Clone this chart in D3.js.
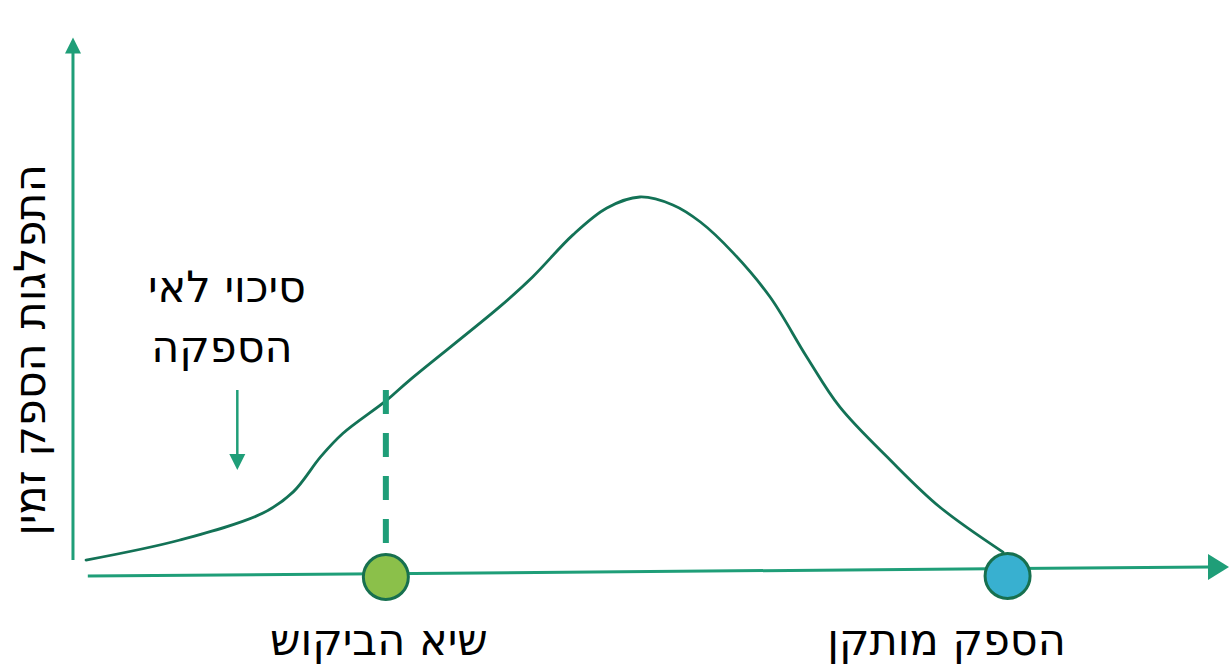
<!DOCTYPE html>
<html><head><meta charset="utf-8">
<script src="https://cdn.jsdelivr.net/npm/d3@7"></script>
<style>html,body{margin:0;padding:0;background:#fff;}svg{display:block;}</style>
</head><body>
<svg id="c" width="1229" height="665"></svg>
<script>
// ---- data ----
const curveX = [0, 10.25, 19.3, 22.6, 25.6, 28.0, 32.8, 35.3, 45.1, 48.7, 53.1, 56.8, 60.4, 64.0, 67.0, 70.6, 74.6, 78.6, 82.2, 87.7, 93.1, 100];
const curveY = [4.2, 9.5, 16.6, 22.2, 31.5, 37.6, 46.4, 51.7, 71.0, 78.9, 90.0, 97.1, 100, 97.9, 93.4, 85.2, 73.6, 57.8, 44.6, 30.6, 18.2, 6.3];
const markerNames = ["שיא הביקוש", "הספק מותקן"];
const markerX = [32.7, 100.5];
const markerColors = ["#8bc04a", "#38b0d0"];
const yAxisTitle = "התפלגות הספק זמין";
const noteLines = ["סיכוי לאי", "הספקה"];

// ---- scales ----
const xScale = d3.scaleLinear().domain([0, 100]).range([86, 1003]);
const yScale = d3.scaleLinear().domain([0, 100]).range([576, 197]);

const svg = d3.select("#c");
const axisColor = "#1f9e78";
const curveColor = "#137256";
const font = "'DejaVu Sans', sans-serif";
const fs = 43;

// y axis
const yAxisX = xScale(-1.42);
svg.append("line").attr("x1", yAxisX).attr("x2", yAxisX)
  .attr("y1", yScale(4.2)).attr("y2", yScale(141))
  .attr("stroke", axisColor).attr("stroke-width", 3);
const yTip = yScale(142.1);
svg.append("path").attr("d", `M${yAxisX},${yTip} L${yAxisX-8},${yTip+16} L${yAxisX+8},${yTip+16} Z`).attr("fill", axisColor);

// x axis (slightly tilted as in reference)
const xStart = xScale(0.2);
const yStartA = yScale(0), yEndA = yScale(2.4);
const tipX = 1229, baseX = 1208;
const yAt = x => yStartA + (yEndA - yStartA) * (x - xStart) / (tipX - xStart);
svg.append("line").attr("x1", xStart).attr("y1", yStartA).attr("x2", baseX + 2).attr("y2", yAt(baseX + 2))
  .attr("stroke", axisColor).attr("stroke-width", 3);
svg.append("path").attr("d", `M${tipX},${yAt(tipX)} L${baseX},${yAt(baseX)-13} L${baseX},${yAt(baseX)+13} Z`).attr("fill", axisColor);

// curve
const pts = curveX.map((x, i) => [x, curveY[i]]);
const line = d3.line().x(d => xScale(d[0])).y(d => yScale(d[1])).curve(d3.curveCatmullRom.alpha(0.5));
svg.append("path").attr("d", line(pts)).attr("fill", "none")
  .attr("stroke", curveColor).attr("stroke-width", 2.8).attr("stroke-linecap", "round");

// dashed line at demand peak
svg.append("line").attr("x1", xScale(markerX[0])).attr("x2", xScale(markerX[0]))
  .attr("y1", yScale(49.1)).attr("y2", yScale(8.7))
  .attr("stroke", axisColor).attr("stroke-width", 6).attr("stroke-dasharray", "24 19");

// markers
const markerY = [yScale(-0.26), yScale(0)];
markerX.forEach((x, i) => {
  svg.append("circle").attr("cx", xScale(x)).attr("cy", markerY[i]).attr("r", 22.5)
    .attr("fill", markerColors[i]).attr("stroke", "#17704f").attr("stroke-width", 3);
  svg.append("text").attr("x", xScale(x) + (i === 0 ? -7 : -61)).attr("y", 655)
    .attr("text-anchor", "middle").attr("font-family", font).attr("font-size", fs)
    .attr("fill", "#000").text(markerNames[i]);
});

// annotation arrow
const ax = xScale(16.5);
svg.append("line").attr("x1", ax).attr("x2", ax).attr("y1", 390).attr("y2", 458)
  .attr("stroke", axisColor).attr("stroke-width", 2.5);
svg.append("path").attr("d", `M${ax},470 L${ax-8},454 L${ax+8},454 Z`).attr("fill", axisColor);

// annotation text
const noteX = [227, 222];
noteLines.forEach((t, i) => {
  svg.append("text").attr("x", noteX[i]).attr("y", 302 + i * 60)
    .attr("text-anchor", "middle").attr("font-family", font).attr("font-size", fs)
    .attr("fill", "#000").text(t);
});

// y axis title
svg.append("text").attr("transform", "translate(45,350) rotate(-90)")
  .attr("text-anchor", "middle").attr("font-family", font).attr("font-size", fs)
  .attr("fill", "#000").text(yAxisTitle);
</script>
</body></html>
